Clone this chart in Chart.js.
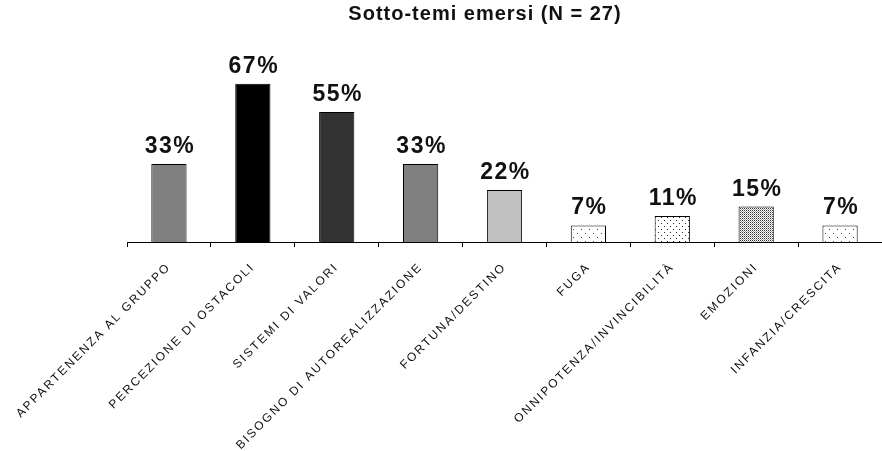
<!DOCTYPE html>
<html>
<head>
<meta charset="utf-8">
<script src="https://cdn.jsdelivr.net/npm/chart.js@4.4.0/dist/chart.umd.min.js"></script>
<style>
  html, body { margin: 0; padding: 0; background: #fff; }
  #wrap { width: 882px; height: 451px; }
</style>
</head>
<body>
<div id="wrap"><canvas id="chart"></canvas></div>
<script>
// dati
const categories = [
  'APPARTENENZA AL GRUPPO',
  'PERCEZIONE DI OSTACOLI',
  'SISTEMI DI VALORI',
  'BISOGNO DI AUTOREALIZZAZIONE',
  'FORTUNA/DESTINO',
  'FUGA',
  'ONNIPOTENZA/INVINCIBILITÀ',
  'EMOZIONI',
  'INFANZIA/CRESCITA'
];
const percentages = [33, 67, 55, 33, 22, 7, 11, 15, 7];
const chartTitle = 'Sotto-temi emersi (N = 27)';
const yMax = 80;

const FONT = '"Liberation Sans", Arial, sans-serif';
const canvas = document.getElementById('chart');
const ctx = canvas.getContext('2d');

// piccoli motivi a puntini per le ultime barre
function dotPattern(w, h, dots, bg) {
  const c = document.createElement('canvas');
  c.width = w;
  c.height = h;
  const g = c.getContext('2d');
  g.fillStyle = bg;
  g.fillRect(0, 0, w, h);
  dots.forEach(d => {
    g.fillStyle = d[2];
    g.fillRect(d[0], d[1], 1, 1);
  });
  return ctx.createPattern(c, 'repeat');
}

const sparse = dotPattern(8, 8, [[1, 1, '#444'], [5, 5, '#444']], '#fff');
const medium = dotPattern(6, 6, [[1, 1, '#222'], [4, 4, '#222']], '#fff');
const dense = dotPattern(2, 2, [[0, 0, '#333'], [1, 1, '#999']], '#fff');

const fills = ['#808080', '#000000', '#333333', '#808080', '#c0c0c0', sparse, medium, dense, sparse];

// spaziatura delle lettere come nell'originale (testo un po' allargato)
const spacingPlugin = {
  id: 'spacing',
  beforeDraw(chart) {
    chart.ctx.letterSpacing = '1px';
  },
  afterDatasetsDraw(chart) {
    const c = chart.ctx;
    const meta = chart.getDatasetMeta(0);
    c.save();
    c.letterSpacing = '1.5px';
    c.font = 'bold 23px ' + FONT;
    c.fillStyle = '#111';
    c.textAlign = 'center';
    c.textBaseline = 'alphabetic';
    meta.data.forEach((bar, i) => {
      c.fillText(percentages[i] + '%', bar.x + 1, bar.y - 11);
    });
    c.restore();
    c.letterSpacing = '2px';
  },
  afterDraw(chart) {
    chart.ctx.letterSpacing = '0px';
  }
};

new Chart(ctx, {
  type: 'bar',
  data: {
    labels: categories,
    datasets: [{
      data: percentages,
      backgroundColor: fills,
      borderColor: '#000',
      borderWidth: 1,
      categoryPercentage: 1,
      barPercentage: 0.42
    }]
  },
  options: {
    responsive: true,
    maintainAspectRatio: false,
    animation: false,
    layout: { padding: { left: 88, right: 0, top: 2, bottom: 0 } },
    plugins: {
      legend: { display: false },
      tooltip: { enabled: false },
      title: {
        display: true,
        text: chartTitle,
        color: '#111',
        font: { family: FONT, size: 20, weight: 'bold', lineHeight: 1.2 },
        padding: { top: 0, bottom: 27 }
      }
    },
    scales: {
      x: {
        grid: { display: true, drawOnChartArea: false, drawTicks: true, tickLength: 5, color: '#000', offset: true },
        border: { display: true, color: '#000', width: 1 },
        ticks: {
          autoSkip: false,
          maxRotation: 45,
          minRotation: 45,
          padding: 13,
          color: '#111',
          font: { family: FONT, size: 12 },
          z: 1
        },
        afterFit(scale) {
          scale.height = 209;
          scale.paddingLeft = 0;
          scale.paddingRight = 0;
        }
      },
      y: {
        min: 0,
        max: yMax,
        grid: { display: false },
        border: { display: false },
        ticks: { display: false },
        afterFit(scale) {
          scale.width = 39;
        }
      }
    }
  },
  plugins: [spacingPlugin]
});
</script>
</body>
</html>
